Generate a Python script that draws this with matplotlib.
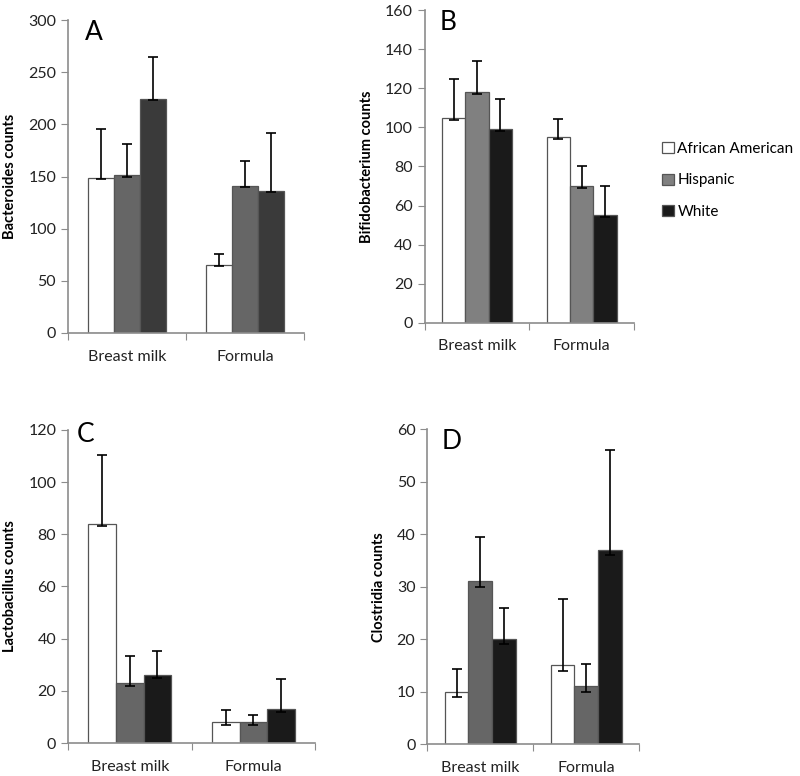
import numpy as np
import matplotlib
matplotlib.use('agg')
import matplotlib.pyplot as plt
from matplotlib.patches import Patch

plt.rcParams['font.family'] = ['Lato', 'DejaVu Sans']

groups = ['Breast milk', 'Formula']
races = ['African American', 'Hispanic', 'White']

# bar heights [breast milk, formula] per race, and top of the error bar
bact = {'African American': [149, 65], 'Hispanic': [151, 141], 'White': [224, 136]}
bact_top = {'African American': [196, 76], 'Hispanic': [181, 165], 'White': [265, 192]}

bifi = {'African American': [105, 95], 'Hispanic': [118, 70], 'White': [99, 55]}
bifi_top = {'African American': [124.5, 104.2], 'Hispanic': [134, 80], 'White': [114.7, 70]}

lacto = {'African American': [84, 8], 'Hispanic': [23, 8], 'White': [26, 13]}
lacto_top = {'African American': [110.5, 12.6], 'Hispanic': [33.2, 10.7], 'White': [35.3, 24.5]}

clos = {'African American': [10, 15], 'Hispanic': [31, 11], 'White': [20, 37]}
clos_top = {'African American': [14.3, 27.7], 'Hispanic': [39.5, 15.2], 'White': [26, 56]}

# lower error (small, about one count below each bar top)
err_low = [1, 1]

panels = [
    ('A', 'Bacteroides counts', bact, bact_top, 300, 50,
     ['white', '#666666', '#3a3a3a'], [0.085, 0.571, 0.295, 0.403], 1.0),
    ('B', 'Bifidobacterium counts', bifi, bifi_top, 160, 20,
     ['white', '#808080', '#1a1a1a'], [0.531, 0.584, 0.2615, 0.403], 1.0),
    ('C', 'Lactobacillus counts', lacto, lacto_top, 120, 20,
     ['white', '#666666', '#1a1a1a'], [0.085, 0.0425, 0.309, 0.4035], 1.025),
    ('D', 'Clostridia counts', clos, clos_top, 60, 10,
     ['white', '#666666', '#1a1a1a'], [0.534, 0.041, 0.265, 0.406], 1.0),
]

fig = plt.figure(figsize=[8, 7.76], dpi=100)
x = np.arange(len(groups))
w = 0.223
spine_col = '#8c8c8c'

for letter, ylabel, vals, tops, ymax, step, cols, pos, ly in panels:
    ax = fig.add_axes(pos)
    for i, r in enumerate(races):
        h = np.array(vals[r], dtype=float)
        up = np.array(tops[r]) - h
        ax.bar(x + (i - 1) * w, h, w, color=cols[i], edgecolor='#555555', lw=0.9, zorder=2)
        ax.errorbar(x + (i - 1) * w, h, yerr=[err_low, up], fmt='none', ecolor='black',
                    elinewidth=1.2, capsize=3.5, capthick=1.2, zorder=3)
    ax.set_xlim(-0.5, 1.5)
    ax.set_ylim(0, ymax)
    ax.set_yticks(np.arange(0, ymax + 1, step))
    ax.set_xticks([-0.5, 0.5, 1.5], minor=False)
    ax.set_xticklabels([])
    ax.set_xticks(x, minor=True)
    ax.set_xticklabels(groups, minor=True, fontsize=11.5, color='#222222')
    ax.tick_params(axis='x', which='minor', length=0, pad=12)
    ax.tick_params(axis='x', which='major', length=5, color=spine_col, direction='out')
    ax.tick_params(axis='y', length=5, color=spine_col, labelsize=11.5, labelcolor='#222222')
    for s in ['top', 'right']:
        ax.spines[s].set_visible(False)
    for s in ['left', 'bottom']:
        ax.spines[s].set_color(spine_col)
        ax.spines[s].set_linewidth(1.2)
    ax.set_ylabel(ylabel, fontsize=10.5, fontweight='bold', labelpad=8)
    ax.text(0.07 if letter != 'C' else 0.035, ly, letter, transform=ax.transAxes,
            fontsize=19, va='top', ha='left')

handles = [Patch(facecolor=c, edgecolor='#555555', lw=0.9) for c in ['white', '#808080', '#1a1a1a']]
fig.legend(handles, races, loc='upper left', bbox_to_anchor=(0.82, 0.825), frameon=False,
           fontsize=11, handlelength=0.75, handleheight=0.75, handletextpad=0.25,
           labelspacing=1.15, borderaxespad=0)

plt.savefig('out.png', dpi=100)
